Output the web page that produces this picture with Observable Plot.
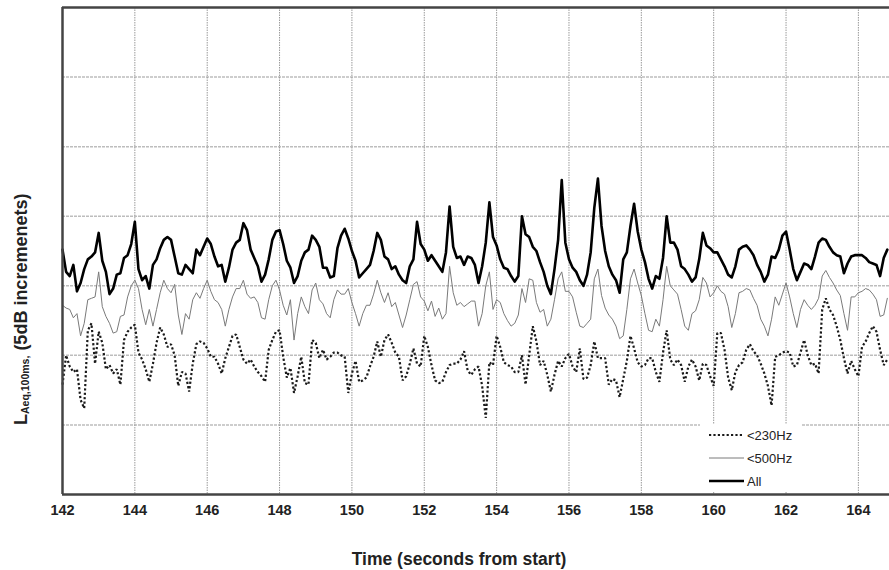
<!DOCTYPE html>
<html><head><meta charset="utf-8">
<script src="https://cdn.jsdelivr.net/npm/d3@7"></script>
<script src="https://cdn.jsdelivr.net/npm/@observablehq/plot@0.6"></script>
<style>
body{margin:0;background:#fff;}
#chart{width:889px;height:570px;}
</style></head><body><div id="chart"></div>
<script>
// time axis: samples every 100 ms starting at 142.0 s
const startTime = 142.0;
const sampleStep = 0.1;
const xTicks = [142,144,146,148,150,152,154,156,158,160,162,164];
const yGridLevels = [5,10,15,20,25,30];
const seriesNames = ["<230Hz", "<500Hz", "All"];

const levelAll = [
17.6,16.0,15.7,16.5,14.6,15.2,16.2,16.9,17.1,17.4, 18.8,16.8,16.0,14.4,14.8,15.8,15.9,17.0,17.2,18.0,
19.6,16.2,15.4,15.7,14.8,16.5,16.9,17.7,18.3,18.5, 18.3,17.1,15.9,15.8,16.5,16.2,15.9,17.6,17.2,17.8,
18.4,18.0,17.1,16.4,16.5,15.3,16.3,17.6,18.1,18.3, 19.5,19.0,17.6,17.0,16.4,15.3,15.8,
16.9,18.3,18.9,19.0,18.0,16.8,16.3,15.2,15.7,16.8, 17.4,17.6,18.6,18.3,17.8,16.3,16.3,15.6,15.7,17.7,
18.6,19.1,18.4,17.5,16.8,15.6,15.9,16.2,16.5,17.5, 18.8,18.3,17.1,16.9,16.2,16.4,15.8,15.4,15.2,16.4,
16.9,19.6,18.0,17.6,16.8,17.2,16.8,16.4,16.0,17.4, 20.7,17.8,17.0,17.1,16.5,
17.1,17.0,16.5,15.2,16.4,18.1,21.0,18.5,17.9,16.9, 16.3,16.2,15.7,15.3,15.7,20.0,18.7,18.5,17.8,17.5,
16.7,16.0,15.0,14.4,16.2,18.3,22.6,18.1,16.9,16.3, 16.0,15.4,15.0,15.8,17.4,20.6,22.7,19.3,17.5,16.4,
15.8,15.4,14.5,16.9,17.4,19.3,20.9,18.9,17.6,16.7, 15.5,14.8,15.7,15.5,17.0,
20.0,18.1,18.1,17.6,16.4,16.2,15.8,15.3,15.6,16.9, 18.8,17.9,17.7,17.4,17.4,16.9,16.4,15.8,15.6,16.4,
17.6,17.8,17.9,17.6,17.2,16.5,16.0,15.3,15.8,17.1, 17.0,17.6,18.6,18.9,17.6,16.2,15.4,16.0,16.6,16.5,
16.2,17.1,18.1,18.4,18.3,17.8,17.4,17.2,17.1,15.9, 16.6,17.1,17.2,17.2,17.2,17.0,16.7,16.6,16.5,15.7,
17.0,17.6
];

const level500 = [
13.6,13.4,13.3,12.7,13.0,11.4,12.3,14.0,14.1,14.2, 16.0,13.5,12.8,12.3,11.6,11.7,12.8,12.9,14.2,15.0,
15.4,14.8,13.3,12.2,13.3,12.1,13.3,14.5,15.4,14.8, 14.5,15.1,12.9,11.5,13.0,12.6,14.0,14.5,14.1,14.8,
15.4,14.6,14.0,13.8,13.3,12.1,13.3,14.2,14.8,14.8, 15.4,14.4,14.1,14.2,13.8,12.7,12.6,
14.0,15.0,15.4,14.7,13.6,12.9,14.0,11.1,13.0,14.2, 13.5,13.0,14.7,15.2,14.0,13.7,13.0,12.7,14.0,14.7,
14.4,14.4,14.8,13.8,13.0,12.1,13.0,13.6,13.6,14.4, 15.4,14.5,13.8,14.5,13.5,13.8,12.9,12.0,12.9,14.0,
15.1,15.3,14.2,13.9,13.2,13.9,12.8,13.4,12.6,13.0, 16.4,14.5,13.6,13.8,13.5,
13.7,13.9,13.9,12.1,13.0,15.0,16.0,13.3,14.0,13.8, 13.0,12.5,12.1,12.3,12.9,14.8,13.8,15.5,15.4,13.8,
13.1,13.3,12.1,12.6,14.0,15.5,16.0,14.6,14.6,14.2, 13.1,12.1,12.0,12.3,12.6,15.5,16.2,14.3,13.4,12.9,
12.6,12.1,11.2,11.4,13.3,15.5,16.2,15.2,14.3,13.0, 11.8,11.7,12.6,12.1,14.0,
16.4,15.0,14.7,14.4,13.3,12.1,11.8,13.0,13.2,14.0, 15.6,15.2,14.2,14.5,15.0,14.6,14.4,13.5,12.0,13.0,
14.5,14.6,14.8,14.7,14.1,13.6,12.6,12.1,11.4,12.6, 14.2,13.6,14.4,15.2,14.2,13.0,12.0,13.3,14.0,13.6,
13.3,13.6,14.1,15.7,16.1,15.6,15.2,14.7,14.3,13.0, 11.8,14.2,14.2,14.5,14.6,14.8,14.7,14.4,14.0,12.8,
12.9,14.1
];

const level230 = [
7.9,10.0,9.2,8.8,9.0,6.8,6.2,11.8,12.3,9.4, 11.7,10.9,9.0,9.3,8.7,9.0,7.9,11.1,11.7,12.0,
12.2,10.2,9.7,9.0,8.1,9.4,10.9,12.0,11.5,10.6, 10.8,10.0,7.8,8.8,8.7,7.4,9.4,10.8,11.0,10.9,
10.5,9.9,9.9,9.4,8.7,9.8,10.6,11.4,11.5,10.6, 9.7,9.4,9.7,9.2,8.8,8.5,8.1,
10.4,11.1,11.7,11.8,9.9,8.4,9.1,7.3,8.5,9.9, 8.0,7.9,11.1,10.9,9.8,10.4,9.7,9.9,10.2,10.2,
10.0,9.9,7.3,8.7,9.6,8.1,8.2,8.4,9.2,9.9, 11.0,9.9,11.1,11.5,10.9,10.2,9.9,8.2,8.5,9.4,
10.5,9.4,9.2,11.4,10.6,9.3,8.2,8.0,8.1,8.8, 9.3,9.4,9.4,9.7,10.3,
8.9,8.6,9.0,9.2,7.8,5.5,9.5,9.3,11.4,10.6, 9.5,9.3,9.2,8.8,8.8,10.0,7.9,10.0,12.1,11.0,
9.3,9.6,8.6,7.4,8.6,9.6,9.2,9.8,10.1,9.2, 8.8,10.5,8.3,8.4,9.3,11.0,9.8,9.8,9.8,7.9,
8.3,8.2,7.0,8.3,9.6,11.4,10.5,9.5,9.2,9.3, 9.8,9.8,8.8,8.1,10.2,
11.8,9.7,9.3,9.7,9.3,8.1,9.2,9.7,9.2,8.2, 9.4,9.3,8.5,7.8,11.6,11.6,10.4,8.4,7.5,8.8,
9.3,9.5,10.4,10.8,10.3,10.0,9.4,8.7,7.8,6.4, 9.9,10.0,10.2,10.3,10.2,9.2,9.3,10.2,11.1,10.0,
9.3,9.4,8.7,13.3,14.1,13.3,12.9,12.1,11.1,9.8, 8.7,9.6,9.0,8.5,10.6,11.0,11.6,12.1,11.7,10.4,
9.3,9.7
];

const toRows = (vals) => vals.map((v, i) => ({t: startTime + i * sampleStep, v}));

const plot = Plot.plot({
  width: 889,
  height: 570,
  marginLeft: 62,
  marginRight: 0,
  marginTop: 7,
  marginBottom: 76,
  style: {fontFamily: "'Liberation Sans', Arial, sans-serif", fontSize: "14.5px", fontWeight: "bold", color: "#222", background: "#fff"},
  x: {domain: [142, 164.86], ticks: xTicks, tickSize: 0, tickPadding: 10, label: null, tickFormat: d => String(d)},
  y: {domain: [0, 35], axis: null},
  marks: [
    Plot.gridY(yGridLevels, {stroke: "#bdbdbd", strokeOpacity: 1, strokeWidth: 1.5, strokeDasharray: "3,1"}),
    Plot.gridX(xTicks.slice(1), {stroke: "#9a9a9a", strokeOpacity: 1, strokeWidth: 1, strokeDasharray: "1.5,1"}),
    Plot.line(toRows(level230), {x: "t", y: "v", stroke: "#1a1a1a", strokeWidth: 2.2, strokeDasharray: "2.2,2.2", strokeLinecap: "butt", strokeLinejoin: "miter"}),
    Plot.line(toRows(level500), {x: "t", y: "v", stroke: "#7a7a7a", strokeWidth: 1}),
    Plot.line(toRows(levelAll), {x: "t", y: "v", stroke: "#000", strokeWidth: 2.6}),
    Plot.ruleX([142], {stroke: "#444", strokeWidth: 2.5}),
    Plot.ruleY([0], {stroke: "#444", strokeWidth: 2.5}),
    Plot.ruleY([35], {stroke: "#444", strokeWidth: 2.5})
  ]
});

const svg = d3.select(plot);

// legend
const lg = svg.append("g").attr("font-weight", "normal").attr("font-size", "13px").attr("fill", "#222").attr("text-anchor", "start");
lg.append("rect").attr("x", 700).attr("y", 424).attr("width", 102).attr("height", 68).attr("fill", "#fff");
const legendStyles = [
  {stroke: "#1a1a1a", w: 2.2, dash: "2.2,2.2", y: 435},
  {stroke: "#7a7a7a", w: 1, dash: null, y: 458},
  {stroke: "#000", w: 2.6, dash: null, y: 481}
];
seriesNames.forEach((name, i) => {
  const s = legendStyles[i];
  const ln = lg.append("line").attr("x1", 709).attr("x2", 744).attr("y1", s.y).attr("y2", s.y)
    .attr("stroke", s.stroke).attr("stroke-width", s.w).attr("stroke-linecap", "butt");
  if (s.dash) ln.attr("stroke-dasharray", s.dash);
  lg.append("text").attr("x", 747).attr("y", s.y).attr("dy", "0.35em").attr("text-anchor", "start").text(name);
});

// x title
svg.append("text").attr("x", 459).attr("y", 565).attr("text-anchor", "middle")
  .attr("font-size", "17.5px").attr("font-weight", "bold").attr("fill", "#222")
  .text("Time (seconds from start)");

// y title
const yt = svg.append("text").attr("transform", "translate(27,425) rotate(-90)").attr("text-anchor", "start")
  .attr("font-size", "18px").attr("font-weight", "bold").attr("fill", "#222");
yt.append("tspan").text("L");
yt.append("tspan").attr("font-size", "10.5px").attr("dy", "2").text("Aeq,100ms,");
yt.append("tspan").attr("dy", "-2").text(" (5dB incremenets)");

document.getElementById("chart").appendChild(plot);
</script>
</body></html>
